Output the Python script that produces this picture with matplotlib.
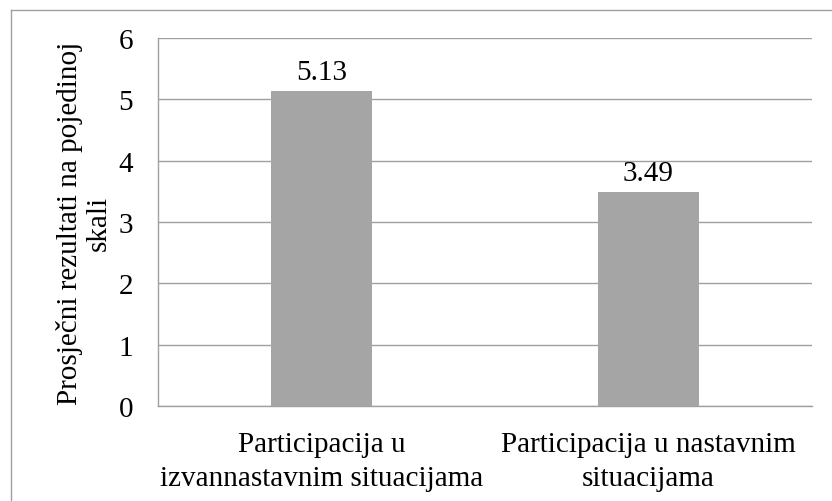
import matplotlib.pyplot as plt
from matplotlib.lines import Line2D

categories = ["Participacija u\nizvannastavnim situacijama",
              "Participacija u nastavnim\nsituacijama"]
values = [5.13, 3.49]
yticks = [0, 1, 2, 3, 4, 5, 6]

plt.rcParams["font.family"] = ["Liberation Serif", "DejaVu Serif"]
fs = 21

fig = plt.figure(figsize=(8.32, 5.02), dpi=100)
ax = fig.add_axes([158 / 832, 1 - 407 / 502, (812 - 158) / 832, (407 - 39) / 502])

x = range(len(categories))
ax.bar(x, values, width=0.31, color="#a5a5a5", zorder=3)
for xi, v in zip(x, values):
    ax.text(xi, v + 0.1, "%.2f" % v, ha="center", va="bottom", fontsize=fs)

ax.set_xlim(-0.5, 1.5)
ax.set_ylim(0, 6)
ax.set_yticks(yticks)
ax.set_xticks(list(x))
ax.set_xticklabels(categories, fontsize=fs, linespacing=1.42)
ax.tick_params(axis="y", labelsize=fs, length=0, pad=18)
ax.tick_params(axis="x", length=0, pad=18)
ax.grid(axis="y", color="#a0a0a0", linewidth=1, zorder=0)
for s in ["top", "right"]:
    ax.spines[s].set_visible(False)
for s in ["left", "bottom"]:
    ax.spines[s].set_color("#a0a0a0")
    ax.spines[s].set_linewidth(1)
ax.set_ylabel("Prosječni rezultati na pojedinoj\nskali", fontsize=fs, linespacing=1.1, labelpad=5)

# outer chart border (only top and left visible)
fig.add_artist(Line2D([10.5 / 832, 10.5 / 832], [0, 1 - 10.5 / 502], color="#a0a0a0", lw=1))
fig.add_artist(Line2D([10.5 / 832, 1], [1 - 10.5 / 502, 1 - 10.5 / 502], color="#a0a0a0", lw=1))

fig.savefig("out.png", dpi=100)
